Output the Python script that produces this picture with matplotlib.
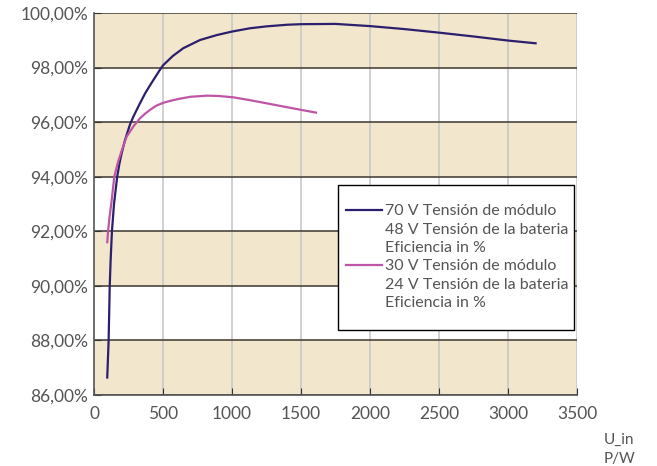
import matplotlib
matplotlib.use("Agg")
import matplotlib.pyplot as plt
from matplotlib.lines import Line2D
from matplotlib.patches import Rectangle
from matplotlib.ticker import FuncFormatter

plt.rcParams['font.family'] = ['Lato', 'DejaVu Sans']

# 70 V module / 48 V battery
p70 = [96, 106, 114, 121, 130, 145, 168, 185, 200, 225, 260, 285, 333, 370, 406,
       450, 486, 500, 570, 647, 768, 889, 1000, 1130, 1250, 1400, 1500, 1750,
       2000, 2250, 2500, 2750, 3000, 3200]
eff70 = [86.64, 88.0, 90.0, 91.0, 92.0, 93.0, 94.0, 94.5, 94.85, 95.35, 95.9, 96.2,
         96.69, 97.05, 97.35, 97.7, 97.98, 98.08, 98.42, 98.71, 99.01, 99.19,
         99.32, 99.44, 99.51, 99.57, 99.59, 99.6, 99.52, 99.41, 99.28, 99.14,
         98.99, 98.89]

# 30 V module / 24 V battery
p30 = [96, 102, 112, 125, 147, 172, 200, 237, 285, 333, 370, 406, 450, 502,
       560, 623, 700, 816, 900, 1009, 1125, 1251, 1375, 1500, 1609]
eff30 = [91.6, 92.0, 92.5, 93.0, 94.0, 94.5, 94.95, 95.47, 95.84, 96.14, 96.31,
         96.45, 96.6, 96.71, 96.79, 96.86, 96.93, 96.97, 96.96, 96.91, 96.81,
         96.69, 96.57, 96.45, 96.35]

labels70 = ["70 V Tensión de módulo", "48 V Tensión de la bateria", "Eficiencia in %"]
labels30 = ["30 V Tensión de módulo", "24 V Tensión de la bateria", "Eficiencia in %"]

xticks = [0, 500, 1000, 1500, 2000, 2500, 3000, 3500]
yticks = [86, 88, 90, 92, 94, 96, 98, 100]

blue = "#2b1f6e"
pink = "#bf55a6"
tan = "#f2e6cc"
txt = "#555555"

fig = plt.figure(figsize=(6.57, 4.66), dpi=100)
ax = fig.add_axes([94/657, 1 - 395/466, 483/657, 382/466])

ax.set_xlim(0, 3500)
ax.set_ylim(86, 100)

# alternating bands
for lo in [86, 90, 94, 98]:
    ax.axhspan(lo, lo + 2, color=tan, zorder=0, lw=0)

for x in xticks[1:]:
    ax.axvline(x, color="#c8c8c8", lw=1.2, zorder=1)
for y in yticks:
    ax.axhline(y, color="#4a453c", lw=1.2, zorder=1.5)

ax.plot(p70, eff70, color=blue, lw=1.6, zorder=3)
ax.plot(p30, eff30, color=pink, lw=1.6, zorder=3)

ax.set_xticks(xticks)
ax.set_yticks(yticks)
ax.yaxis.set_major_formatter(FuncFormatter(lambda v, p: f"{v:.2f}%".replace(".", ",")))
ax.tick_params(axis="x", direction="in", length=5, color="#333333", labelcolor=txt,
               labelsize=12.5, pad=8)
ax.tick_params(axis="y", direction="in", length=5, color="#333333", labelcolor=txt,
               labelsize=12.5, pad=4)
for s in ["left", "bottom"]:
    ax.spines[s].set_color("#555555")
    ax.spines[s].set_linewidth(1.2)
ax.spines["top"].set_visible(False)
ax.spines["right"].set_visible(False)

# legend box drawn separately so the padding can differ per side
box = Rectangle((338/657, 1 - 330/466), 236/657, 145/466, transform=fig.transFigure,
                facecolor="white", edgecolor="black", lw=1.0, zorder=4)
ax.add_patch(box)

empty = Line2D([], [], color="none")
handles = [Line2D([], [], color=blue, lw=1.6), empty, empty,
           Line2D([], [], color=pink, lw=1.6), empty, empty]
leg = ax.legend(handles, labels70 + labels30, loc="upper left",
                bbox_to_anchor=(346/657, 1 - 204/466), bbox_transform=fig.transFigure,
                frameon=False, fontsize=11.5, labelspacing=0.26, handlelength=2.25,
                handletextpad=0.2, borderpad=0, borderaxespad=0, labelcolor=txt)
leg.set_zorder(5)

fig.text(604/657, 1 - 440/466, "U_in", color=txt, fontsize=11, va="center")
fig.text(604/657, 1 - 459/466, "P/W", color=txt, fontsize=11, va="center")

fig.savefig("out.png", dpi=100)
